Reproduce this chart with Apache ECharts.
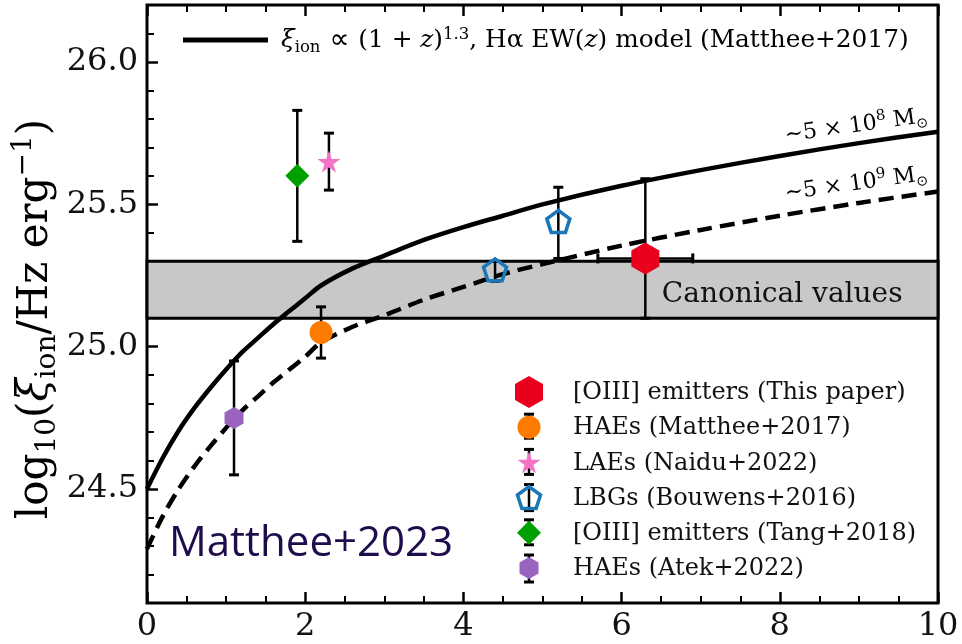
<!DOCTYPE html>
<html><head><meta charset="utf-8">
<script src="https://cdn.jsdelivr.net/npm/echarts@6/dist/echarts.min.js"></script>
<style>html,body{margin:0;padding:0;background:#fff}#c{width:962px;height:644px}</style>
</head><body><div id="c"></div>
<script>
// ---- data ----
const modelZ   = [0, 0.2, 0.4, 0.6, 0.8, 1.0, 1.2, 1.4, 1.6, 1.8, 2.0, 2.2, 2.6, 3.0, 3.5, 4, 4.5, 5, 6, 7, 8, 9, 10];
const model5e8 = [24.50, 24.61, 24.705, 24.785, 24.855, 24.92, 24.98, 25.03, 25.08, 25.125, 25.17, 25.215, 25.275, 25.32, 25.375, 25.42, 25.46, 25.50, 25.565, 25.62, 25.67, 25.715, 25.755];
const model5e9 = [24.29, 24.405, 24.50, 24.58, 24.65, 24.715, 24.775, 24.825, 24.875, 24.92, 24.965, 25.015, 25.07, 25.11, 25.165, 25.21, 25.255, 25.29, 25.355, 25.41, 25.46, 25.505, 25.545];
const canonicalRange = [25.1, 25.3];
// rows: [z, log xi_ion, low, high, zLow, zHigh]
const oiiiThisPaper = [[6.3, 25.31, 25.10, 25.59, 5.7, 6.9]];
const haeMatthee17  = [[2.2, 25.05, 24.96, 25.14]];
const laeNaidu22    = [[2.3, 25.65, 25.55, 25.75]];
const lbgBouwens16  = [[4.4, 25.27, 25.23, 25.30], [5.2, 25.44, 25.31, 25.56]];
const oiiiTang18    = [[1.9, 25.60, 25.37, 25.83]];
const haeAtek22     = [[1.1, 24.75, 24.55, 24.95]];
const yMajorTicks = [24.5, 25.0, 25.5, 26.0];
const yMinorTicks = [24.2, 24.3, 24.4, 24.6, 24.7, 24.8, 24.9, 25.1, 25.2, 25.3, 25.4, 25.6, 25.7, 25.8, 25.9, 26.1];
const legendNames = ['[OIII] emitters (This paper)', 'HAEs (Matthee+2017)', 'LAEs (Naidu+2022)', 'LBGs (Bouwens+2016)', '[OIII] emitters (Tang+2018)', 'HAEs (Atek+2022)'];

// ---- marker shapes (unit outlines) ----
const SERIF = 'DejaVu Serif';
const hexPts  = [[0,-1],[0.866,-0.5],[0.866,0.5],[0,1],[-0.866,0.5],[-0.866,-0.5]];
const pentPts = [[0,-1],[0.951,-0.309],[0.588,0.809],[-0.588,0.809],[-0.951,-0.309]];
const starPts = [[0,-1],[0.2245,-0.309],[0.951,-0.309],[0.3633,0.118],[0.588,0.809],[0,0.382],[-0.588,0.809],[-0.3633,0.118],[-0.951,-0.309],[-0.2245,-0.309]];
const toPath = pts => 'path://' + pts.map((p, i) => (i ? 'L' : 'M') + p[0] + ',' + p[1]).join('') + 'Z';
const markers = [
  {data: oiiiThisPaper, pts: hexPts, size: [28, 32], color: '#e8001c'},
  {data: haeMatthee17, pts: null, symbol: 'circle', size: [23, 23], color: '#ff7b00'},
  {data: laeNaidu22, pts: starPts, size: [23, 22], color: '#f373c8'},
  {data: lbgBouwens16, pts: pentPts, size: [23, 22], color: 'transparent', border: '#1a77b8'},
  {data: oiiiTang18, pts: [[0,-1],[1,0],[0,1],[-1,0]], size: [24, 24], color: '#00a000'},
  {data: haeAtek22, pts: hexPts, size: [19, 22], color: '#9a63c0'}
];

const errRows = [].concat(oiiiThisPaper, haeMatthee17, laeNaidu22, lbgBouwens16, oiiiTang18, haeAtek22)
  .map(r => [r[0], r[1], r[2], r[3], r.length > 4 ? r[4] : '-', r.length > 5 ? r[5] : '-']);

function renderErr(params, api) {
  const x = api.value(0), y = api.value(1), lo = api.value(2), hi = api.value(3);
  const a = api.coord([x, lo]), b = api.coord([x, hi]);
  const cap = 5, st = {stroke: '#000', lineWidth: 2.5}, cs = {stroke: '#000', lineWidth: 3};
  const ch = [
    {type: 'line', shape: {x1: a[0], y1: a[1], x2: b[0], y2: b[1]}, style: st},
    {type: 'line', shape: {x1: a[0] - cap, y1: a[1], x2: a[0] + cap, y2: a[1]}, style: cs},
    {type: 'line', shape: {x1: b[0] - cap, y1: b[1], x2: b[0] + cap, y2: b[1]}, style: cs}
  ];
  const zl = api.value(4), zh = api.value(5);
  if (!isNaN(zl) && !isNaN(zh)) {
    const c = api.coord([zl, y]), d = api.coord([zh, y]);
    ch.push({type: 'line', shape: {x1: c[0], y1: c[1], x2: d[0], y2: d[1]}, style: st});
    ch.push({type: 'line', shape: {x1: c[0], y1: c[1] - cap, x2: c[0], y2: c[1] + cap}, style: cs});
    ch.push({type: 'line', shape: {x1: d[0], y1: d[1] - cap, x2: d[0], y2: d[1] + cap}, style: cs});
  }
  return {type: 'group', children: ch};
}

const zip = (xs, ys) => xs.map((x, i) => [x, ys[i]]);

const series = [
  {type: 'line', data: [], z: 1, silent: true,
   markArea: {silent: true,
     itemStyle: {color: '#c8c8c8', borderColor: '#000', borderWidth: 3},
     label: {show: true, position: 'insideRight', distance: 37, offset: [0, 5], color: '#111', fontFamily: SERIF, fontSize: 28},
     data: [[{yAxis: canonicalRange[0], name: 'Canonical values'}, {yAxis: canonicalRange[1]}]]}},
  {type: 'line', data: zip(modelZ, model5e8), showSymbol: false, z: 3, silent: true,
   smooth: 0.3, lineStyle: {color: '#000', width: 4.5}},
  {type: 'line', data: zip(modelZ, model5e9), showSymbol: false, z: 3, silent: true,
   smooth: 0.3, lineStyle: {color: '#000', width: 4.5, type: [15, 8]}},
  {type: 'custom', data: errRows, renderItem: renderErr, z: 4, silent: true,
   dimensions: ['z', 'v', 'lo', 'hi', 'zl', 'zh'], encode: {x: 0, y: 1}}
];
markers.forEach((m, i) => {
  series.push({type: 'scatter', name: legendNames[i], data: m.data.map(r => [r[0], r[1]]),
    symbol: m.pts ? toPath(m.pts) : m.symbol, symbolSize: m.size, z: 5, silent: true,
    itemStyle: {color: m.color, borderColor: m.border || m.color, borderWidth: m.border ? 3.5 : 0, opacity: 1}});
});

// ---- legend (graphic) ----
const legendGraphic = [];
const lx = 529, ly0 = 392, lgap = 35.2;
const legErr = [null, [-13, 11], [-13, 12], [-13, 13], [-13, 12], [-13, 14]];
markers.forEach((m, i) => {
  const cy = ly0 + i * lgap;
  if (legErr[i]) {
    const e = legErr[i];
    legendGraphic.push({type: 'line', shape: {x1: lx, y1: cy + e[0], x2: lx, y2: cy + e[1]}, style: {stroke: '#000', lineWidth: 2.5}, z: 10});
    legendGraphic.push({type: 'line', shape: {x1: lx - 5, y1: cy + e[0], x2: lx + 5, y2: cy + e[0]}, style: {stroke: '#000', lineWidth: 3}, z: 10});
    legendGraphic.push({type: 'line', shape: {x1: lx - 5, y1: cy + e[1], x2: lx + 5, y2: cy + e[1]}, style: {stroke: '#000', lineWidth: 3}, z: 10});
  }
  const sz = m.size;
  let el;
  if (!m.pts) {
    el = {type: 'circle', shape: {cx: lx, cy: cy, r: sz[0] / 2}};
  } else {
    let minX = 1e9, maxX = -1e9, minY = 1e9, maxY = -1e9;
    m.pts.forEach(p => { minX = Math.min(minX, p[0]); maxX = Math.max(maxX, p[0]); minY = Math.min(minY, p[1]); maxY = Math.max(maxY, p[1]); });
    const pts = m.pts.map(p => [lx - sz[0] / 2 + (p[0] - minX) / (maxX - minX) * sz[0], cy - sz[1] / 2 + (p[1] - minY) / (maxY - minY) * sz[1]]);
    el = {type: 'polygon', shape: {points: pts}};
  }
  el.style = m.border ? {fill: 'none', stroke: m.border, lineWidth: 3.5} : {fill: m.color};
  el.z = 11;
  legendGraphic.push(el);
  legendGraphic.push({type: 'text', x: 573, y: cy + 1, z: 11,
    style: {text: legendNames[i], fontFamily: SERIF, fontSize: 24, fill: '#111', verticalAlign: 'middle', align: 'left'}});
});

const richMath = {
  t: {fontFamily: SERIF, fontSize: 24.8, color: '#111', lineHeight: 30},
  o: {fontFamily: 'DejaVu Sans', fontSize: 28, color: '#111', lineHeight: 30},
  i: {fontFamily: SERIF, fontSize: 24.8, fontStyle: 'italic', color: '#111', lineHeight: 30},
  s: {fontFamily: SERIF, fontSize: 16.5, color: '#111', verticalAlign: 'bottom', lineHeight: 16},
  p: {fontFamily: SERIF, fontSize: 16.5, color: '#111', verticalAlign: 'top', lineHeight: 16}
};
const richMass = {
  t: {fontFamily: SERIF, fontSize: 22, color: '#111', lineHeight: 28},
  s: {fontFamily: 'DejaVu Sans', fontSize: 14, color: '#111', verticalAlign: 'bottom', lineHeight: 14},
  p: {fontFamily: SERIF, fontSize: 15, color: '#111', verticalAlign: 'top', lineHeight: 15}
};
const richY = {
  a: {fontFamily: SERIF, fontSize: 42, color: '#111', lineHeight: 52},
  i: {fontFamily: SERIF, fontSize: 42, fontStyle: 'italic', color: '#111', lineHeight: 52},
  s: {fontFamily: SERIF, fontSize: 28, color: '#111', verticalAlign: 'bottom', lineHeight: 28},
  p: {fontFamily: SERIF, fontSize: 28, color: '#111', verticalAlign: 'top', lineHeight: 28}
};

const graphic = [
  {type: 'line', shape: {x1: 183, y1: 40, x2: 268, y2: 40}, style: {stroke: '#000', lineWidth: 5}, z: 10},
  {type: 'text', x: 281, y: 41, z: 10, style: {
    text: '{i|ξ}{s|ion}{o| ∝ }{t|(1 + }{i|z}{t|)}{p|1.3}{t|, Hα EW(}{i|z}{t|) model (Matthee+2017)}',
    rich: richMath, verticalAlign: 'middle', align: 'left'}},
  {type: 'text', x: 856, y: 126, rotation: 8 * Math.PI / 180, z: 10, style: {
    text: '{t|∼5 × 10}{p|8}{t| M}{s|⊙}', rich: richMass, align: 'center', verticalAlign: 'middle'}},
  {type: 'text', x: 856, y: 184, rotation: 8 * Math.PI / 180, z: 10, style: {
    text: '{t|∼5 × 10}{p|9}{t| M}{s|⊙}', rich: richMass, align: 'center', verticalAlign: 'middle'}},
  {type: 'text', x: 36, y: 319, rotation: Math.PI / 2, z: 10, style: {
    text: '{a|log}{s|10}{a|(}{i|ξ}{s|ion}{a|/Hz erg}{p|−1}{a|)}', rich: richY, align: 'center', verticalAlign: 'middle'}},
  {type: 'text', x: 169, y: 544, z: 10, style: {
    text: 'Matthee+2023', fontFamily: 'Open Sans', fontSize: 42, fill: '#1f0c4c', verticalAlign: 'middle', align: 'left'}}
].concat(legendGraphic);

const xAxisBase = {
  type: 'value', min: 0, max: 10, interval: 2,
  axisLine: {show: false}, splitLine: {show: false},
  axisTick: {inside: true, length: 11, lineStyle: {color: '#000', width: 2.5}},
  minorTick: {show: true, splitNumber: 4, length: 7, lineStyle: {color: '#000', width: 2}}
};

const option = {
  animation: false,
  backgroundColor: '#fff',
  grid: {left: 147, right: 24, top: 5, bottom: 41, show: true, borderColor: '#000', borderWidth: 3, backgroundColor: 'transparent'},
  xAxis: [
    Object.assign({}, xAxisBase, {position: 'bottom',
      axisLabel: {fontFamily: SERIF, fontSize: 32, color: '#111', margin: 8}}),
    Object.assign({}, xAxisBase, {position: 'top', axisLabel: {show: false}})
  ],
  yAxis: [
    {type: 'value', min: 24.1, max: 26.2, position: 'left',
     axisLine: {show: false}, splitLine: {show: false},
     axisTick: {inside: true, length: 11, customValues: yMajorTicks, lineStyle: {color: '#000', width: 2.5}},
     axisLabel: {customValues: yMajorTicks, formatter: v => v.toFixed(1), fontFamily: SERIF, fontSize: 32, color: '#111', margin: 9}},
    {type: 'value', min: 24.1, max: 26.2, position: 'left',
     axisLine: {show: false}, splitLine: {show: false},
     axisTick: {inside: true, length: 7, customValues: yMinorTicks, lineStyle: {color: '#000', width: 2}},
     axisLabel: {show: false}}
  ],
  series: series,
  graphic: graphic
};

const chart = echarts.init(document.getElementById('c'), null, {renderer: 'canvas'});
chart.setOption(option);
</script>
</body></html>
